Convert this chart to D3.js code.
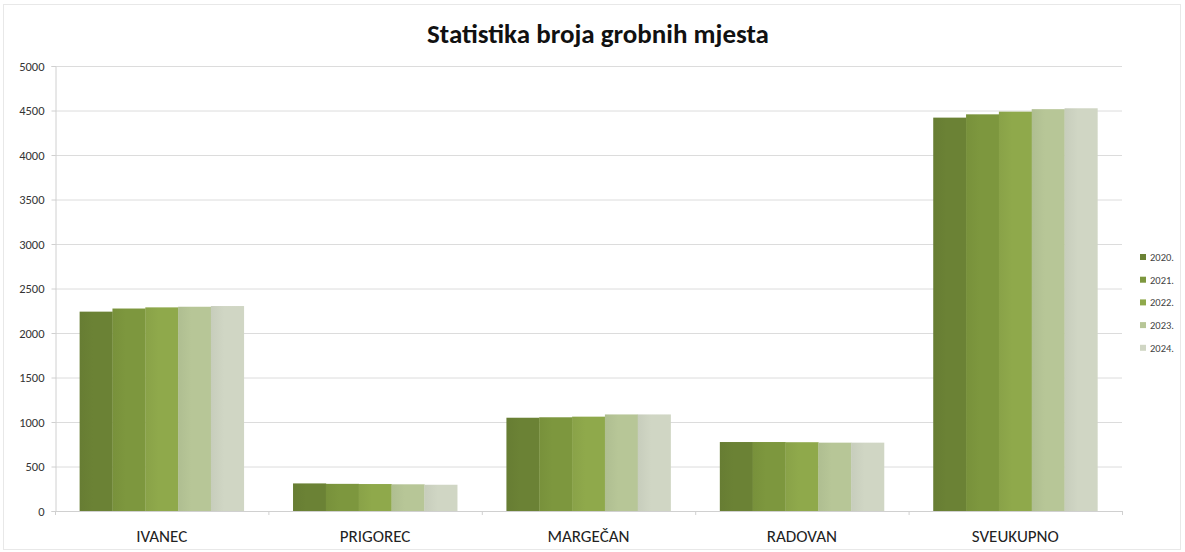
<!DOCTYPE html>
<html><head><meta charset="utf-8">
<script src="https://cdn.jsdelivr.net/npm/d3@7/dist/d3.min.js"></script>
<style>body{margin:0;background:#fff}svg{display:block}</style>
</head><body>
<svg id="c" width="1185" height="552"></svg>
<script>
const categories = ["IVANEC","PRIGOREC","MARGEČAN","RADOVAN","SVEUKUPNO"];
const years = ["2020.","2021.","2022.","2023.","2024."];
const v2020 = [2240, 310, 1048, 775, 4420];
const v2021 = [2275, 305, 1053, 775, 4457];
const v2022 = [2288, 303, 1060, 773, 4487];
const v2023 = [2295, 300, 1085, 768, 4515];
const v2024 = [2303, 295, 1085, 768, 4525];
const yTicks = [0,500,1000,1500,2000,2500,3000,3500,4000,4500,5000];
const colors = ["#6b8235","#7d973e","#8fa94b","#b7c697","#d0d6c4"];
const series = [v2020,v2021,v2022,v2023,v2024];

const svg = d3.select("#c");
const font = "Carlito, Calibri, 'Open Sans', 'Noto Sans', sans-serif";
const m = {l:55, r:1122, t:66, b:511};

svg.append("rect").attr("x",3.5).attr("y",4.5).attr("width",1177).attr("height",545)
  .attr("fill","none").attr("stroke","#e8e8e8");

const y = d3.scaleLinear().domain([0,5000]).range([m.b,m.t]);
const x0 = d3.scaleBand().domain(categories).range([m.l,m.r]).paddingInner(0.2308).paddingOuter(0.1154);
const x1 = d3.scaleBand().domain(years).range([0,x0.bandwidth()]);

const defs = svg.append("defs");
colors.forEach((c,i)=>{
  const g = defs.append("linearGradient").attr("id","g"+i).attr("x1",0).attr("x2",1).attr("y1",0).attr("y2",0);
  g.append("stop").attr("offset","0%").attr("stop-color",d3.color(c).darker(0.12));
  g.append("stop").attr("offset","40%").attr("stop-color",c);
  g.append("stop").attr("offset","100%").attr("stop-color",c);
});

svg.append("g").selectAll("line").data(yTicks.filter(d=>d>0)).join("line")
  .attr("x1",m.l).attr("x2",m.r).attr("y1",d=>y(d)+0.5).attr("y2",d=>y(d)+0.5)
  .attr("stroke","#dcdcdc").attr("stroke-width",1);

const ya = svg.append("g").attr("transform",`translate(${m.l+0.5},0)`)
  .call(d3.axisLeft(y).tickValues(yTicks).tickSize(4).tickPadding(7).tickFormat(d3.format("d")));
ya.select(".domain").attr("stroke","#d0d0d0");
ya.selectAll(".tick line").attr("stroke","#d0d0d0");
ya.selectAll("text").attr("font-family",font).attr("font-size",12.5).attr("fill","#333");

const grp = svg.append("g").selectAll("g").data(categories).join("g")
  .attr("transform",c=>`translate(${x0(c)},0)`);
grp.selectAll("rect").data((c,ci)=>series.map((s,si)=>({year:years[si],v:s[ci],si}))).join("rect")
  .attr("x",d=>x1(d.year)).attr("width",x1.bandwidth()+0.3)
  .attr("y",d=>y(d.v)).attr("height",d=>y(0)-y(d.v))
  .attr("fill",d=>`url(#g${d.si})`);

const step = x0.step();
svg.append("line").attr("x1",m.l).attr("x2",m.r).attr("y1",m.b+0.5).attr("y2",m.b+0.5).attr("stroke","#d0d0d0");
svg.append("g").selectAll("line").data(d3.range(categories.length+1)).join("line")
  .attr("x1",i=>m.l+i*step+0.5).attr("x2",i=>m.l+i*step+0.5)
  .attr("y1",m.b).attr("y2",m.b+4).attr("stroke","#d0d0d0");
svg.append("g").selectAll("text").data(categories).join("text")
  .attr("x",c=>x0(c)+x0.bandwidth()/2).attr("y",542)
  .attr("text-anchor","middle").attr("font-family",font).attr("font-size",17).attr("fill","#222")
  .text(d=>d);

svg.append("text").attr("x",598).attr("y",43).attr("text-anchor","middle")
  .attr("font-family",font).attr("font-weight","bold").attr("font-size",27).attr("fill","#111")
  .text("Statistika broja grobnih mjesta");

const lg = svg.append("g").selectAll("g").data(years).join("g")
  .attr("transform",(d,i)=>`translate(1140,${257+i*22.7})`);
lg.append("rect").attr("x",0).attr("y",-3).attr("width",6).attr("height",6).attr("fill",(d,i)=>colors[i]);
lg.append("text").attr("x",10).attr("y",3.8).attr("font-family",font).attr("font-size",10.5).attr("fill","#444").text(d=>d);
</script>
</body></html>
